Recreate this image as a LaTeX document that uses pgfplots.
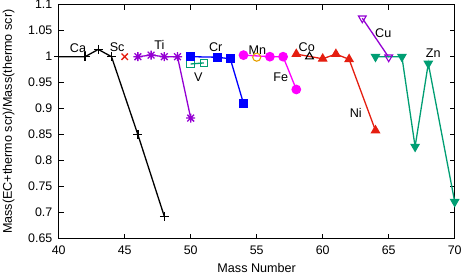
\documentclass[border=0pt]{standalone}
\usepackage{fontspec}
\setmainfont{Liberation Sans}
\usepackage{pgfplots}
\pgfplotsset{compat=1.18}
\definecolor{gpPurple}{HTML}{9400D3}
\definecolor{gpGreen}{HTML}{009E73}
\definecolor{gpOrange}{HTML}{E69F00}
\definecolor{gpRed}{HTML}{E51E10}
\definecolor{gpBlue}{HTML}{0000FF}
\definecolor{gpMagenta}{HTML}{FF00FF}
\pgfdeclareplotmark{gpstar}{%
  \pgfpathmoveto{\pgfqpoint{-\pgfplotmarksize}{0pt}}\pgfpathlineto{\pgfqpoint{\pgfplotmarksize}{0pt}}%
  \pgfpathmoveto{\pgfqpoint{0pt}{-\pgfplotmarksize}}\pgfpathlineto{\pgfqpoint{0pt}{\pgfplotmarksize}}%
  \pgfpathmoveto{\pgfqpoint{-0.75\pgfplotmarksize}{-0.75\pgfplotmarksize}}\pgfpathlineto{\pgfqpoint{0.75\pgfplotmarksize}{0.75\pgfplotmarksize}}%
  \pgfpathmoveto{\pgfqpoint{-0.75\pgfplotmarksize}{0.75\pgfplotmarksize}}\pgfpathlineto{\pgfqpoint{0.75\pgfplotmarksize}{-0.75\pgfplotmarksize}}%
  \pgfusepathqstroke}
\begin{document}
\fontsize{12.6}{15}\selectfont
\begin{tikzpicture}
\begin{axis}[
  scale only axis, width=396pt, height=234pt,
  xmin=40, xmax=70, ymin=0.65, ymax=1.1,
  xtick={40,45,50,55,60,65,70},
  ytick={0.65,0.7,0.75,0.8,0.85,0.9,0.95,1,1.05,1.1},
  yticklabels={0.65,0.7,0.75,0.8,0.85,0.9,0.95,1,1.05,1.1},
  xticklabels={40,45,50,55,60,65,70},
  tick align=inside, major tick length=5pt,
  tick style={black, line width=0.6pt},
  axis line style={black, line width=0.8pt},
  ticklabel style={font=\fontsize{12.4}{15}\selectfont},
  xticklabel style={yshift=-2.5pt},
  yticklabel style={xshift=-2pt},
  clip=false,
  every axis plot/.append style={line width=1.3pt},
]
% Ca
\addplot[black, mark=+, mark size=4.5pt] coordinates {(40,1.0) (42,1.0) (43,1.014) (44,1.0) (46,0.85) (48,0.693)};
% Sc
\addplot[gpRed, mark=x, mark size=4.5pt, only marks] coordinates {(45,1.0)};
% Ti
\addplot[gpPurple, mark=gpstar, mark size=4.5pt] coordinates {(46,1.0) (47,1.003) (48,1.0) (49,1.0) (50,0.882)};
% V
\addplot[gpGreen, mark=square, mark size=3.8pt, mark options={line width=1.1pt}] coordinates {(50,0.986) (51,0.988)};
% Cr
\addplot[gpBlue, mark=square*, mark size=3.8pt] coordinates {(50,1.0) (52,0.999) (53,0.996) (54,0.910)};
% Mn
\addplot[gpOrange, mark=o, mark size=4pt, only marks, mark options={line width=1.1pt}] coordinates {(55,0.999)};
% Fe
\addplot[gpMagenta, mark=*, mark size=4.2pt] coordinates {(54,1.003) (56,1.0) (57,1.0) (58,0.937)};
% Co
\addplot[black, mark=triangle, mark size=4.5pt, only marks, mark options={line width=1.1pt}] coordinates {(59,1.0)};
% Ni
\addplot[gpRed, mark=triangle*, mark size=4.5pt] coordinates {(58,1.005) (60,0.996) (61,1.005) (62,0.995) (64,0.858)};
% Cu
\addplot[gpPurple, mark=triangle, mark size=4.5pt, mark options={rotate=180, line width=1.1pt}] coordinates {(63,1.074) (65,0.999)};
% Zn
\addplot[gpGreen, mark=triangle*, mark size=4.5pt, mark options={rotate=180}] coordinates {(64,1.0) (66,1.0) (67,0.827) (68,0.987) (70,0.721)};
\node at (axis cs:41.46,1.0167) {Ca};
\node at (axis cs:44.43,1.019) {Sc};
\node at (axis cs:47.62,1.0225) {Ti};
\node at (axis cs:50.58,0.9615) {V};
\node at (axis cs:51.9,1.019) {Cr};
\node at (axis cs:55.05,1.013) {Mn};
\node at (axis cs:56.82,0.960) {Fe};
\node at (axis cs:58.79,1.019) {Co};
\node at (axis cs:62.5,0.892) {Ni};
\node at (axis cs:64.59,1.045) {Cu};
\node at (axis cs:68.37,1.0065) {Zn};
\end{axis}
\node at ([yshift=-29pt]current axis.south) {Mass Number};
\node[rotate=90] at ([xshift=-50pt]current axis.west) {Mass(EC+thermo scr)/Mass(thermo scr)};
\pgfresetboundingbox
\path ([xshift=-58.7pt,yshift=-37.3pt]current axis.south west) rectangle ([xshift=8.3pt,yshift=4.7pt]current axis.north east);
\end{tikzpicture}
\end{document}
